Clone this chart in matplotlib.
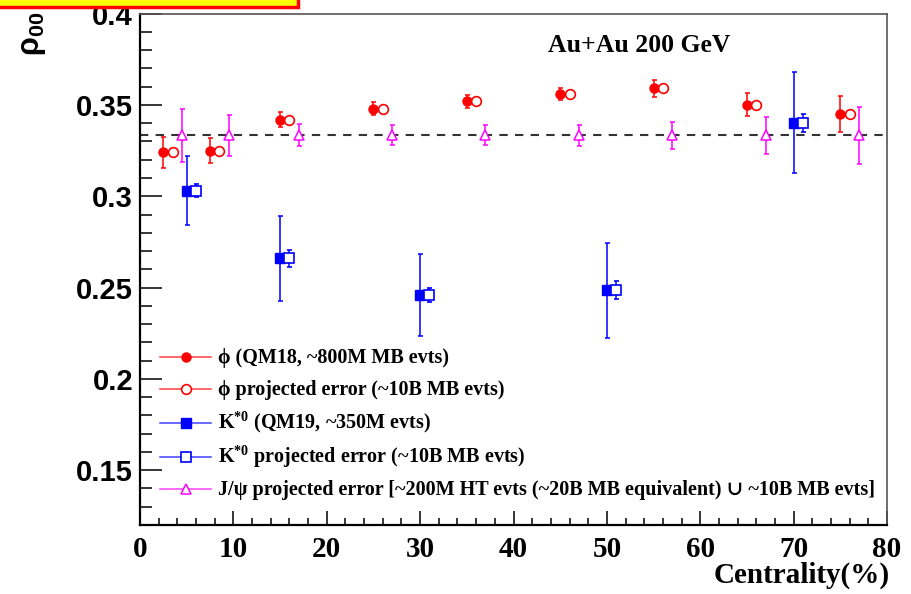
import matplotlib
matplotlib.use('Agg')
import matplotlib.pyplot as plt
from matplotlib.lines import Line2D
from matplotlib.patches import Rectangle
from matplotlib.ticker import MultipleLocator

# phi meson, QM18 measurement and projected errors
phi_x = [2.5, 7.5, 15, 25, 35, 45, 55, 65, 75]
phi_y = [0.324, 0.325, 0.342, 0.348, 0.352, 0.356, 0.359, 0.350, 0.345]
phi_err = [0.0087, 0.007, 0.004, 0.0035, 0.0037, 0.0034, 0.0047, 0.0063, 0.0097]
phi_proj_x = [3.5, 8.5, 16, 26, 36, 46, 56, 66, 76]
phi_proj_err = [0.0012, 0.0012, 0.0012, 0.0012, 0.0012, 0.0012, 0.0012, 0.0012, 0.0012]

# K*0, QM19 measurement and projected errors
kst_x = [5, 15, 30, 50, 70]
kst_y = [0.303, 0.266, 0.246, 0.2486, 0.3403]
kst_err = [0.019, 0.0233, 0.0224, 0.026, 0.0275]
kst_proj_x = [6, 16, 31, 51, 71]
kst_proj_err = [0.0035, 0.0045, 0.004, 0.005, 0.005]

# J/psi projected errors
jpsi_x = [4.5, 9.5, 17, 27, 37, 47, 57, 67, 77]
jpsi_y = [0.3333] * 9
jpsi_err = [0.0143, 0.011, 0.006, 0.0055, 0.0055, 0.0057, 0.0075, 0.01, 0.0155]

labels = [
    'ϕ (QM18, ~800M MB evts)',
    'ϕ projected error (~10B MB evts)',
    'K$^{\\mathrm{*0}}$ (QM19, ~350M evts)',
    'K$^{\\mathrm{*0}}$ projected error (~10B MB evts)',
    'J/ψ projected error [~200M HT evts (~20B MB equivalent) \u222a ~10B MB evts]',
]

plt.rcParams['mathtext.fontset'] = 'custom'
plt.rcParams['mathtext.rm'] = 'Liberation Serif:bold'
plt.rcParams['mathtext.sf'] = 'Liberation Sans:bold'

red = '#ff0000'
blue = '#0000ff'
mag = '#ff00ff'

W, H = 912, 594
fig = plt.figure(figsize=(9.12, 5.94), dpi=100)
ax_l, ax_b, ax_w, ax_h = 140, 69, 747, 511.4
ax = fig.add_axes([ax_l/W, ax_b/H, ax_w/W, ax_h/H])

ax.axhline(1/3, color='#333333', lw=1.5, ls=(0, (4, 3.5)), zorder=1)

eb = dict(ls='none', capsize=1.8, elinewidth=1.1, capthick=1.1, zorder=3)
ax.errorbar(phi_x, phi_y, yerr=phi_err, color=red, marker='o', ms=6.5, **eb)
ax.errorbar(phi_proj_x, phi_y, yerr=phi_proj_err, color=red, marker='o', ms=7,
            mfc='white', mew=1.2, **eb)
ax.errorbar(kst_x, kst_y, yerr=kst_err, color=blue, marker='s', ms=6.5, **eb)
ax.errorbar(kst_proj_x, kst_y, yerr=kst_proj_err, color=blue, marker='s', ms=6.5,
            mfc='white', mew=1.2, **eb)
ax.errorbar(jpsi_x, jpsi_y, yerr=jpsi_err, color=mag, marker='^', ms=7.5,
            mfc='white', mew=1.1, **eb)

ax.set_xlim(0, 80)
ax.set_ylim(0.12, 0.4)
ax.xaxis.set_major_locator(MultipleLocator(10))
ax.xaxis.set_minor_locator(MultipleLocator(2))
ax.yaxis.set_minor_locator(MultipleLocator(0.01))
ax.set_yticks([0.15, 0.2, 0.25, 0.3, 0.35, 0.4])
ax.set_yticklabels(['0.15', '0.2', '0.25', '0.3', '0.35', '0.4'])
ax.tick_params(axis='y', which='major', direction='in', length=16, width=1.1, pad=5,
               labelsize=21, right=False)
ax.tick_params(axis='y', which='minor', direction='in', length=8.5, width=1.1, right=False)
ax.tick_params(axis='x', which='major', direction='in', length=10, width=1.1, pad=8,
               labelsize=21, top=False)
ax.tick_params(axis='x', which='minor', direction='in', length=5, width=1.1, top=False)
for t in ax.get_yticklabels():
    t.set_fontfamily('Liberation Sans')
    t.set_fontweight('bold')
for t in ax.get_xticklabels():
    t.set_fontfamily('Liberation Serif')
    t.set_fontweight('bold')

for s in ['left', 'bottom']:
    ax.spines[s].set_linewidth(1.6)
    ax.spines[s].set_color('black')
for s in ['top', 'right']:
    ax.spines[s].set_linewidth(1.2)
    ax.spines[s].set_color('#555555')

ax.text((548 - ax_l)/ax_w, (H - 52 - ax_b)/ax_h, 'Au+Au 200 GeV',
        transform=ax.transAxes, fontsize=18.5, fontfamily='Liberation Serif',
        fontweight='bold', ha='left', va='baseline')

# legend drawn by hand so that every row has the same pitch
styles = [
    dict(color=red, marker='o', ms=6.5),
    dict(color=red, marker='o', ms=7, mfc='white', mew=1.2),
    dict(color=blue, marker='s', ms=6.5),
    dict(color=blue, marker='s', ms=6.5, mfc='white', mew=1.2),
    dict(color=mag, marker='^', ms=7.5, mfc='white', mew=1.1),
]
rows_px = [357, 389, 423, 457, 489]
for py, st, lab in zip(rows_px, styles, labels):
    yf = (H - py - ax_b) / ax_h
    ax.add_line(Line2D([(160 - ax_l)/ax_w, (211 - ax_l)/ax_w], [yf, yf],
                       transform=ax.transAxes, lw=1.1, color=st['color'], alpha=0.75))
    ax.add_line(Line2D([(186 - ax_l)/ax_w], [yf], transform=ax.transAxes, ls='none', **st))
    ax.text((218 - ax_l)/ax_w, (H - py - 5.5 - ax_b)/ax_h, lab, transform=ax.transAxes,
            fontsize=14.5, family=['Liberation Serif', 'DejaVu Serif'], fontweight='bold',
            ha='left', va='baseline')

fig.text(890/W, 1 - 583/H, 'Centrality(%)', fontsize=21, fontfamily='Liberation Serif',
         fontweight='bold', ha='right', va='baseline')
fig.text(33/W, 1 - 12/H, 'ρ$_{\\mathsf{00}}$', fontsize=22, fontfamily='Liberation Sans',
         fontweight='bold', rotation=90, ha='center', va='top')

# highlight box clipped at top-left corner
fig.patches.append(Rectangle((-0.01, 1 - 6.5/H), 298/W + 0.01, 0.05,
                             transform=fig.transFigure, facecolor='#ffff00',
                             edgecolor='#ff0000', lw=2.5))

fig.savefig('out.png', dpi=100)
